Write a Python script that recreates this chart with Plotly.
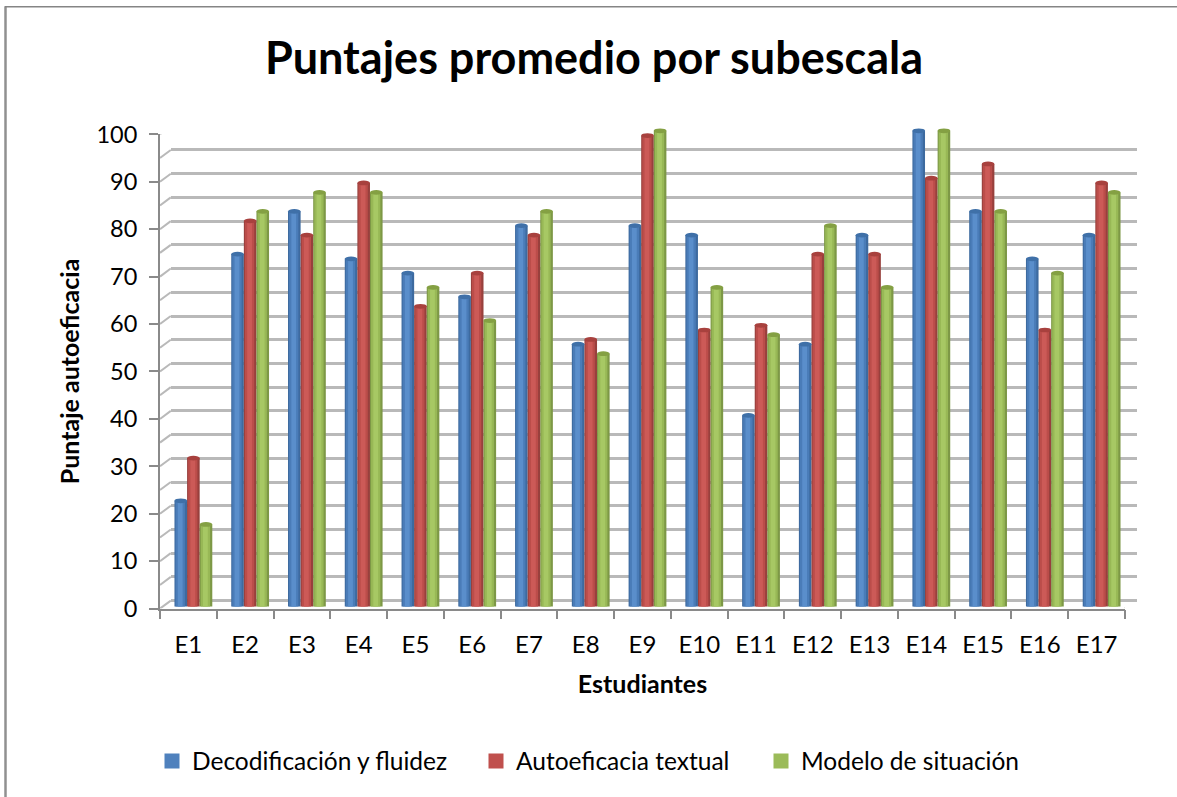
import plotly.graph_objects as go

W, H = 1177, 797
# the container-anchored legends reserve strips above and below the plot area
PT, MB = 14.8, 72.2
PH = H - MB - PT
categories = ["E%d" % i for i in range(1, 18)]
series_names = ["Decodificación y fluidez", "Autoeficacia textual", "Modelo de situación"]
decodificacion = [22, 74, 83, 73, 70, 65, 80, 55, 80, 78, 40, 55, 78, 100, 83, 73, 78]
autoeficacia = [31, 81, 78, 89, 63, 70, 78, 56, 99, 58, 59, 74, 74, 90, 93, 58, 89]
modelo = [17, 83, 87, 87, 67, 60, 83, 53, 100, 67, 57, 80, 67, 100, 83, 70, 87]
all_series = [decodificacion, autoeficacia, modelo]
wall_ticks = list(range(0, 105, 5))

FONT = "Lato"
TXT = "#000000"
shades = [("#3d6a9f", "#4a7cb8", "#5a8ecb"), ("#98403d", "#bb4d4a", "#cc5a57"), ("#7d9846", "#98b856", "#a7c864")]
caps = ["#3f70a8", "#a8413e", "#84a043"]
legend_cols = ["#4f81bd", "#c0504d", "#9bbb59"]
GRID = "#b9b9b9"
AXIS = "#8a8a8a"
FLOOR_DROP = 0.3  # bars sink slightly below zero, as the rounded bases do


def dx(a, b):
    return [a / W, b / W]


def py(p):
    return 1 - (p - PT) / PH


def dy(top, bottom):
    return [py(bottom), py(top)]


fig = go.Figure()
# anchor trace so that the back wall subplot is drawn
fig.add_trace(go.Scatter(x=[0], y=[None], xaxis="x", yaxis="y", mode="lines", showlegend=False, hoverinfo="skip"))
xs = [i + 0.5 for i in range(len(categories))]
bar_w = 0.222
for s, vals in enumerate(all_series):
    left = -1.5 * bar_w + s * bar_w
    for k, frac in enumerate((1.0, 0.74, 0.38)):
        w = bar_w * frac
        shift = (bar_w - w) / 2 - (0.01 if k else 0)
        fig.add_trace(go.Bar(x=xs, y=[v + FLOOR_DROP for v in vals], base=-FLOOR_DROP, xaxis="x3", yaxis="y3",
                             marker=dict(color=shades[s][k], line_width=0),
                             width=w, offset=left + shift, showlegend=False, hoverinfo="skip"))
    for x, v in zip(xs, vals):
        c = x + left + bar_w / 2
        fig.add_shape(type="circle", xref="x3", yref="y3", x0=c - bar_w / 2, x1=c + bar_w / 2, y0=v - 0.5, y1=v + 0.5,
                      fillcolor=caps[s], line_width=0, layer="above")

# left wall and floor edges, joining the front axes to the back wall
for t in wall_ticks:
    fig.add_trace(go.Scatter(x=[0, 0.19], y=[t, t + 1.69], xaxis="x2", yaxis="y2", mode="lines", cliponaxis=False,
                             line=dict(color=GRID, width=2), showlegend=False, hoverinfo="skip"))
fig.add_trace(go.Scatter(x=[17, 17.2], y=[0, 1.69], xaxis="x2", yaxis="y2", mode="lines", cliponaxis=False,
                         line=dict(color=AXIS, width=2), showlegend=False, hoverinfo="skip"))
fig.add_trace(go.Scatter(x=categories, y=[None] * len(categories), xaxis="x4", yaxis="y2", mode="lines",
                         showlegend=False, hoverinfo="skip"))

legend_x = [152, 476, 761]
for i, name in enumerate(series_names):
    lname = "legend" if i == 0 else "legend%d" % (i + 1)
    fig.add_trace(go.Scatter(x=[None], y=[None], xaxis="x3", yaxis="y3", mode="markers", name=name, legend=lname,
                             marker=dict(symbol="square", size=15, color=legend_cols[i]), showlegend=True))

legend_common = dict(yanchor="middle", y=1 - 761 / H, xanchor="left", bgcolor="rgba(0,0,0,0)", borderwidth=0,
                     xref="container", yref="container",
                     font=dict(family=FONT, size=24.5, color=TXT), orientation="h", itemclick=False)

fig.update_layout(
    width=W, height=H, autosize=False, margin=dict(l=0, r=0, t=0, b=0),
    paper_bgcolor="white", plot_bgcolor="rgba(0,0,0,0)", barmode="overlay",
    title=dict(text="<b>Puntajes promedio por subescala</b>", x=594 / W, xanchor="center", y=1 - 58 / H, yanchor="middle",
               font=dict(family=FONT, size=45, color=TXT)),
    # back wall
    xaxis=dict(domain=dx(171, 1137), range=[0, 17], visible=False, anchor="y"),
    yaxis=dict(domain=dy(126, 600), range=[0, 100], dtick=5, showgrid=True, gridcolor=GRID, gridwidth=2.5,
               showticklabels=False, ticks="", showline=False, zeroline=True, zerolinecolor=GRID, zerolinewidth=2.5, anchor="x"),
    # front axes
    xaxis2=dict(domain=dx(160, 1125), range=[0, 17], anchor="y2", showgrid=False, showticklabels=False, ticks="",
                showline=True, linecolor=AXIS, linewidth=2, zeroline=False),
    yaxis2=dict(domain=dy(134, 608), range=[0, 100], dtick=10, anchor="x2", showgrid=False, zeroline=False,
                showline=True, linecolor=AXIS, linewidth=2, ticks="outside", ticklen=9, tickwidth=2, tickcolor=AXIS,
                tickfont=dict(family=FONT, size=23.5, color=TXT), ticklabelstandoff=7,
                title=dict(text="<b>Puntaje autoeficacia</b>", font=dict(family=FONT, size=25, color=TXT), standoff=10)),
    # labelled category axis
    xaxis4=dict(domain=dx(160, 1125), type="category", categoryorder="array", categoryarray=categories, range=[-0.5, 16.5],
                anchor="y2", tickson="boundaries", ticks="outside", ticklen=9, tickwidth=2, tickcolor=AXIS, showgrid=False,
                showline=False, zeroline=False, tickfont=dict(family=FONT, size=24, color=TXT), tickangle=0, ticklabelstandoff=19,
                title=dict(text="<b>Estudiantes</b>", font=dict(family=FONT, size=25, color=TXT), standoff=18)),
    # bars, raised slightly from the floor
    xaxis3=dict(domain=dx(165, 1130), range=[0, 17], visible=False, anchor="y3"),
    yaxis3=dict(domain=dy(604.5 - 105 * 4.74, 604.5 + 2 * 4.74), range=[-2, 105], visible=False, anchor="x3"),
    legend=dict(x=legend_x[0] / W, **legend_common),
    legend2=dict(x=legend_x[1] / W, **legend_common),
    legend3=dict(x=legend_x[2] / W, **legend_common),
    shapes=list(fig.layout.shapes) + [
        dict(type="line", xref="paper", yref="paper", x0=5.5 / W, x1=5.5 / W, y0=py(H), y1=py(6), line=dict(color="#909090", width=2.5)),
        dict(type="line", xref="paper", yref="paper", x0=5 / W, x1=1, y0=py(6.5), y1=py(6.5), line=dict(color="#858585", width=1.5)),
    ],
)

fig.write_html("out.html", config={"displayModeBar": False}, post_script="document.body.style.margin='0';")
